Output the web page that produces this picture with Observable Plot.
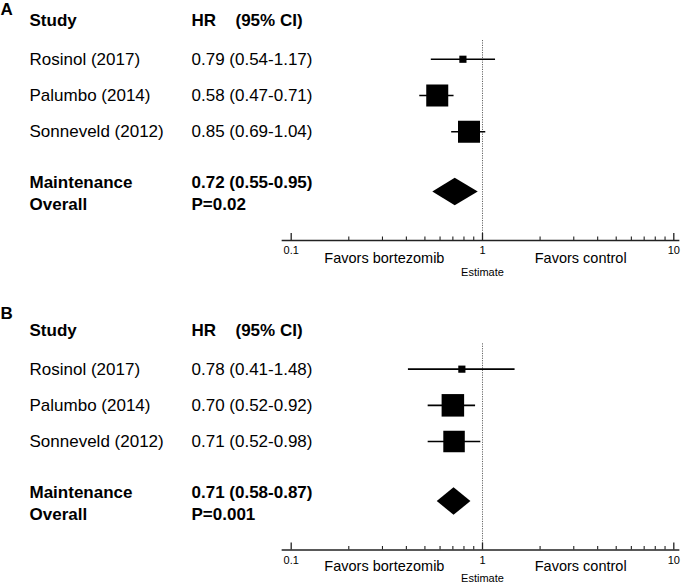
<!DOCTYPE html>
<html><head><meta charset="utf-8">
<script src="https://cdn.jsdelivr.net/npm/d3@7"></script>
<script src="https://cdn.jsdelivr.net/npm/@observablehq/plot@0.6"></script>
<style>
body{margin:0;background:#fff;}
#chart{width:685px;height:584px;overflow:hidden;}
#chart svg{display:block;overflow:visible;}
</style></head><body><div id="chart"></div>
<script>
// ---- data ----
const studies = ["Rosinol (2017)", "Palumbo (2014)", "Sonneveld (2012)"];
const studyRows = [1, 2, 3];
const headerRow = 0;
const overallRow = 4.66;
const headers = ["Study", "HR", "(95% CI)"];
const overallLabel = ["Maintenance", "Overall"];

// Panel A
const hrA = [0.79, 0.58, 0.85];
const lowA = [0.54, 0.47, 0.69];
const highA = [1.17, 0.71, 1.04];
const weightA = [14, 43, 43];
const overallA = [0.72, 0.55, 0.95]; // HR, low, high
const pA = "0.02";

// Panel B
const hrB = [0.78, 0.70, 0.71];
const lowB = [0.41, 0.52, 0.52];
const highB = [1.48, 0.92, 0.98];
const weightB = [14, 44, 42];
const overallB = [0.71, 0.58, 0.87];
const pB = "0.001";

// axis
const majorTicks = [0.1, 1, 10];
const minorTicks = [0.2, 0.3, 0.4, 0.5, 0.6, 0.7, 0.8, 0.9, 2, 3, 4, 5, 6, 7, 8, 9];
const nullEffect = 1;
const favorLabels = ["Favors bortezomib", "Favors control"];
const favorAt = [0.307, 3.26];
const axisTitle = "Estimate";

const fmt = v => v.toFixed(2);
const FONT = "'Liberation Sans', Arial, Helvetica, sans-serif";

function panel(o) {
  const W = 685, ML = 282, MR = 7;
  const innerH = o.height - o.marginTop - o.marginBottom;
  const rows = studies.map((s, i) => ({
    study: s, row: studyRows[i], hr: o.hr[i], low: o.low[i], high: o.high[i], w: o.weight[i],
    label: `${fmt(o.hr[i])} (${fmt(o.low[i])}-${fmt(o.high[i])})`
  }));
  const dh = 0.38;
  const [est, lo, hi] = o.overall;
  const diamond = [
    {x: lo, y1: overallRow, y2: overallRow},
    {x: est, y1: overallRow - dh, y2: overallRow + dh},
    {x: hi, y1: overallRow, y2: overallRow}
  ];
  const overallText = [{row: overallRow,
    left: overallLabel.join("\n"),
    right: `${fmt(est)} (${fmt(lo)}-${fmt(hi)})\nP=${o.p}`}];
  const favors = favorLabels.map((l, i) => ({label: l, at: favorAt[i]}));
  const colStudy = 29 - ML, colHR = 191 - ML, colCI = 235 - ML;

  return Plot.plot({
    width: W, height: o.height,
    marginLeft: ML, marginRight: MR, marginTop: o.marginTop, marginBottom: o.marginBottom,
    x: {type: "log", domain: [0.1, 10], range: [290.7, 673.3]},
    y: {domain: [0, 6], reverse: true, axis: null},
    r: {type: "linear", domain: [0, 50], range: [0, 14.44]},
    style: {fontFamily: FONT, color: "#000", background: "#fff", overflow: "visible"},
    marks: [
      // reference line at HR = 1
      Plot.ruleX([nullEffect], {stroke: "#666", strokeWidth: 1, strokeDasharray: "1.2,1.2", insetTop: o.refInset}),
      // axis line and ticks
      Plot.frame({anchor: "bottom", stroke: "#222", strokeWidth: 1.7}),
      Plot.ruleX(majorTicks, {x: d => d, stroke: "#222", strokeWidth: 1.3, insetTop: innerH - 7}),
      Plot.ruleX(minorTicks, {x: d => d, stroke: "#222", strokeWidth: 1.1, insetTop: innerH - 3.5}),
      Plot.axisX({ticks: majorTicks, tickSize: 0, tickPadding: 6, fontSize: 11, tickFormat: d => String(d), label: null}),
      Plot.text(favors, {x: "at", text: "label", frameAnchor: "bottom", dy: o.favorDy, fontSize: 14.5, lineAnchor: "middle"}),
      Plot.text([axisTitle], {x: () => nullEffect, text: d => d, frameAnchor: "bottom", dy: o.titleDy, fontSize: 11, lineAnchor: "middle"}),
      // confidence intervals and squares
      Plot.ruleY(rows, {y: "row", x1: "low", x2: "high", stroke: "#000", strokeWidth: 1.6}),
      Plot.dot(rows, {x: "hr", y: "row", r: "w", symbol: "square", fill: "#000"}),
      // pooled diamond
      Plot.areaY(diamond, {x: "x", y1: "y1", y2: "y2", fill: "#000", curve: "linear"}),
      // table text
      Plot.text([headers[0]], {y: () => headerRow, text: d => d, frameAnchor: "left", dx: colStudy, dy: -2, textAnchor: "start", fontSize: 17, fontWeight: "bold"}),
      Plot.text([headers[1]], {y: () => headerRow, text: d => d, frameAnchor: "left", dx: colHR, dy: -2, textAnchor: "start", fontSize: 17, fontWeight: "bold"}),
      Plot.text([headers[2]], {y: () => headerRow, text: d => d, frameAnchor: "left", dx: colCI, dy: -2, textAnchor: "start", fontSize: 17, fontWeight: "bold"}),
      Plot.text(rows, {y: "row", text: "study", frameAnchor: "left", dx: colStudy, textAnchor: "start", fontSize: 17}),
      Plot.text(rows, {y: "row", text: "label", frameAnchor: "left", dx: colHR, textAnchor: "start", fontSize: 17}),
      Plot.text(overallText, {y: "row", text: "left", frameAnchor: "left", dx: colStudy, textAnchor: "start", fontSize: 17, fontWeight: "bold", lineHeight: 1.32}),
      Plot.text(overallText, {y: "row", text: "right", frameAnchor: "left", dx: colHR, textAnchor: "start", fontSize: 17, fontWeight: "bold", lineHeight: 1.32}),
      // panel letter
      Plot.text([o.letter], {frameAnchor: "top-left", dx: -ML, dy: o.letterDy, text: d => d, textAnchor: "start", lineAnchor: "bottom", fontSize: 17, fontWeight: "bold"})
    ]
  });
}

const root = document.getElementById("chart");
root.appendChild(panel({letter: "A", hr: hrA, low: lowA, high: highA, weight: weightA, overall: overallA, p: pA,
  height: 300, marginTop: 22.5, marginBottom: 60, refInset: 17.5, letterDy: -8.5, favorDy: 18, titleDy: 32}));
root.appendChild(panel({letter: "B", hr: hrB, low: lowB, high: highB, weight: weightB, overall: overallB, p: pB,
  height: 284, marginTop: 32.5, marginBottom: 34.5, refInset: 10.8, letterDy: -14.5, favorDy: 16.5, titleDy: 28}));
</script></body></html>
